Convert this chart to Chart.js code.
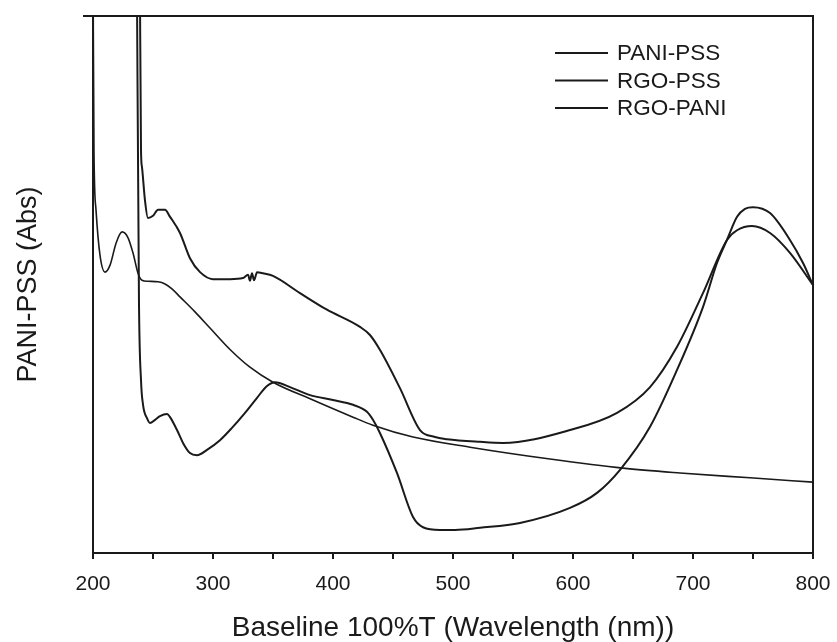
<!DOCTYPE html>
<html>
<head>
<meta charset="utf-8">
<script src="https://cdn.jsdelivr.net/npm/chart.js@4/dist/chart.umd.min.js"></script>
<style>
  html, body { margin: 0; padding: 0; background: #fff; }
  #wrap { width: 837px; height: 642px; }
</style>
</head>
<body>
<div id="wrap"><canvas id="c" width="837" height="642"></canvas></div>
<script>
// ---- Data (wavelength in nm, absorbance in arbitrary units; values >100 run off the top) ----
const seriesLabels = ['PANI-PSS', 'RGO-PSS', 'RGO-PANI'];

const paniPssWl  = [239.0, 240.0, 240.8, 243.3, 245.8, 250.0, 254.2, 260.0, 264.2, 272.5, 280.8, 289.2, 300.0, 314.2, 325.0, 329.2, 330.8, 332.5, 334.2, 336.7, 341.7, 350.0, 372.5, 395.0, 422.5, 430.8, 439.2, 455.8, 472.5, 485.0, 495.0, 522.5, 541.7, 597.5, 636.7, 664.2, 686.7, 708.3, 728.3, 736.7, 749.2, 764.2, 780.8, 800.0];
const paniPssAbs = [110, 75.0, 71.9, 65.7, 62.4, 62.8, 63.9, 63.9, 62.6, 59.6, 54.9, 52.3, 51.0, 51.0, 51.2, 51.8, 50.7, 52.1, 50.8, 52.3, 52.1, 51.6, 48.4, 45.3, 42.1, 40.6, 37.8, 30.7, 22.9, 21.6, 21.2, 20.7, 20.5, 22.9, 26.1, 30.9, 38.4, 48.4, 58.3, 60.1, 60.9, 59.6, 55.9, 49.9];

const rgoPssWl  = [200.0, 200.8, 202.5, 205.8, 210.0, 214.2, 219.2, 224.2, 229.2, 233.3, 237.5, 240.8, 245.8, 254.2, 260.0, 265.8, 272.5, 285.0, 297.5, 314.2, 330.8, 350.0, 383.3, 416.7, 433.3, 466.7, 514.2, 580.8, 641.7, 689.2, 747.5, 800.0];
const rgoPssAbs = [110, 75.0, 63.9, 55.5, 52.3, 53.6, 57.7, 59.8, 58.7, 55.9, 52.1, 50.8, 50.6, 50.5, 50.1, 49.2, 47.7, 44.9, 41.9, 37.9, 34.6, 31.8, 28.5, 25.3, 23.8, 21.6, 19.7, 17.5, 15.8, 14.9, 14.0, 13.2];

const rgoPaniWl  = [236.5, 238.3, 240.0, 241.7, 245.0, 247.5, 251.7, 255.8, 261.7, 264.2, 270.0, 275.0, 280.8, 286.7, 295.0, 305.8, 315.8, 326.7, 336.7, 345.0, 351.7, 364.2, 380.8, 400.0, 416.7, 428.3, 433.3, 439.2, 453.3, 466.7, 475.0, 489.2, 501.7, 522.5, 555.8, 597.5, 620.0, 639.2, 664.2, 686.7, 708.3, 720.0, 728.3, 736.7, 743.3, 750.0, 764.2, 780.8, 791.7, 800.0];
const rgoPaniAbs = [110, 47.1, 32.2, 27.6, 25.1, 24.2, 24.8, 25.5, 25.9, 25.3, 22.9, 20.5, 18.6, 18.2, 19.2, 21.0, 23.3, 26.1, 28.9, 31.1, 31.8, 30.9, 29.4, 28.5, 27.6, 26.3, 24.8, 22.3, 14.9, 6.7, 4.8, 4.3, 4.3, 4.7, 5.6, 8.4, 11.2, 15.5, 23.5, 34.1, 45.8, 54.0, 58.3, 62.6, 64.1, 64.4, 63.3, 58.3, 54.0, 49.9];

const xTickValues = [200, 300, 400, 500, 600, 700, 800];

// ---- Helpers ----
function toPoints(xs, ys) { return xs.map((x, i) => ({ x: x, y: ys[i] })); }

const FONT = "'Liberation Sans', Arial, Helvetica, sans-serif";
const INK = '#1a1a1a';

const framePlugin = {
  id: 'frame',
  afterDraw(chart) {
    const { ctx, chartArea: a } = chart;
    ctx.save();
    ctx.strokeStyle = INK;
    ctx.lineWidth = 2;
    ctx.beginPath();
    ctx.moveTo(a.left - 10, a.top);
    ctx.lineTo(a.right, a.top);
    ctx.lineTo(a.right, a.bottom);
    ctx.stroke();
    ctx.restore();
  }
};

const legendPlugin = {
  id: 'lineLegend',
  afterDraw(chart) {
    const { ctx } = chart;
    ctx.save();
    ctx.font = '22.5px ' + FONT;
    ctx.textBaseline = 'middle';
    ctx.fillStyle = INK;
    chart.data.datasets.forEach((ds, i) => {
      const y = 53 + i * 27.5;
      ctx.strokeStyle = ds.borderColor;
      ctx.lineWidth = 2;
      ctx.beginPath();
      ctx.moveTo(555, y);
      ctx.lineTo(608, y);
      ctx.stroke();
      ctx.fillText(ds.label, 617, y + 1);
    });
    ctx.restore();
  }
};

const common = {
  borderColor: INK,
  backgroundColor: INK,
  pointRadius: 0,
  showLine: true,
  fill: false,
  cubicInterpolationMode: 'monotone'
};

new Chart(document.getElementById('c'), {
  type: 'scatter',
  data: {
    datasets: [
      Object.assign({ label: seriesLabels[0], data: toPoints(paniPssWl, paniPssAbs), borderWidth: 2 }, common),
      Object.assign({ label: seriesLabels[1], data: toPoints(rgoPssWl, rgoPssAbs), borderWidth: 1.6 }, common),
      Object.assign({ label: seriesLabels[2], data: toPoints(rgoPaniWl, rgoPaniAbs), borderWidth: 2 }, common)
    ]
  },
  options: {
    responsive: false,
    animation: false,
    devicePixelRatio: 1,
    layout: { padding: { top: 16, right: 24, left: 0, bottom: 0 } },
    plugins: {
      legend: { display: false },
      tooltip: { enabled: false }
    },
    scales: {
      x: {
        type: 'linear',
        min: 200,
        max: 800,
        afterFit(s) { s.height = 89; s.paddingLeft = 0; s.paddingRight = 0; },
        afterBuildTicks(s) {
          const t = [];
          for (let v = 200; v <= 800; v += 50) t.push({ value: v });
          s.ticks = t;
        },
        ticks: {
          color: INK,
          font: { family: FONT, size: 21 },
          padding: 13,
          maxRotation: 0,
          autoSkip: false,
          callback: (v) => xTickValues.includes(v) ? String(v) : ''
        },
        grid: {
          display: true,
          drawOnChartArea: false,
          drawTicks: true,
          tickLength: 6,
          color: INK,
          lineWidth: 2
        },
        border: { display: true, color: INK, width: 2 },
        title: {
          display: true,
          text: 'Baseline 100%T (Wavelength (nm))',
          color: INK,
          font: { family: FONT, size: 28, lineHeight: 1.0 },
          padding: { top: 0, bottom: 0 }
        }
      },
      y: {
        type: 'linear',
        min: 0,
        max: 100,
        afterFit(s) { s.width = 93; },
        ticks: { display: false },
        grid: { display: false },
        border: { display: true, color: INK, width: 2 },
        title: {
          display: true,
          text: 'PANI-PSS (Abs)',
          color: INK,
          font: { family: FONT, size: 27, lineHeight: 1.0 },
          padding: { top: 15, bottom: 0 }
        }
      }
    }
  },
  plugins: [framePlugin, legendPlugin]
});
</script>
</body>
</html>
